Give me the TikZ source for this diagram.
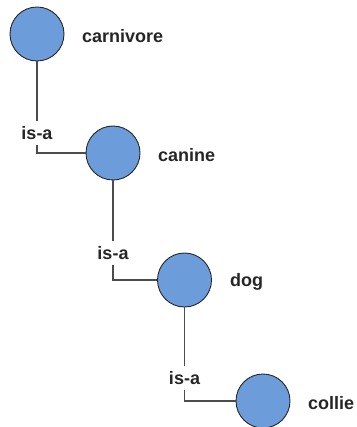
\documentclass[tikz,border=0pt]{standalone}
\usepackage{fontspec}
\setmainfont{Liberation Sans}
\begin{document}
\begin{tikzpicture}[x=1pt,y=-1pt,
  concept/.style={circle,draw=black!85,line width=0.9pt,fill=conceptblue,minimum size=54pt,inner sep=0pt},
  conceptlabel/.style={anchor=west,inner sep=0pt,font=\fontsize{18}{20}\selectfont\bfseries,text=black!85},
  isa/.style={inner sep=0pt,minimum height=23pt,font=\fontsize{18}{20}\selectfont\bfseries,text=black!85},
  link/.style={draw=black!70,line width=1.3pt}]
\definecolor{conceptblue}{RGB}{108,157,218}
\useasboundingbox (0,0) rectangle (356,427);
\node[concept] (c1) at (37,34) {};
\node[concept] (c2) at (113,153) {};
\node[concept] (c3) at (184.5,280) {};
\node[concept] (c4) at (263,401) {};
\node[conceptlabel] (n1) at (82,36) {carnivore};
\node[conceptlabel] (n2) at (158,155) {canine};
\node[conceptlabel] (n3) at (230,282) {dog};
\node[conceptlabel] (n4) at (308,403) {collie};
\node[isa] (l1) at (37,133) {is-a};
\node[isa] (l2) at (113,253) {is-a};
\node[isa] (l3) at (184.5,378) {is-a};
\draw[link] (c1.south) -- (l1.north);
\draw[link] (l1.south) |- (c2.west);
\draw[link] (c2.south) -- (l2.north);
\draw[link] (l2.south) |- (c3.west);
\draw[link] (c3.south) -- (l3.north);
\draw[link] (l3.south) |- (c4.west);
\end{tikzpicture}
\end{document}
